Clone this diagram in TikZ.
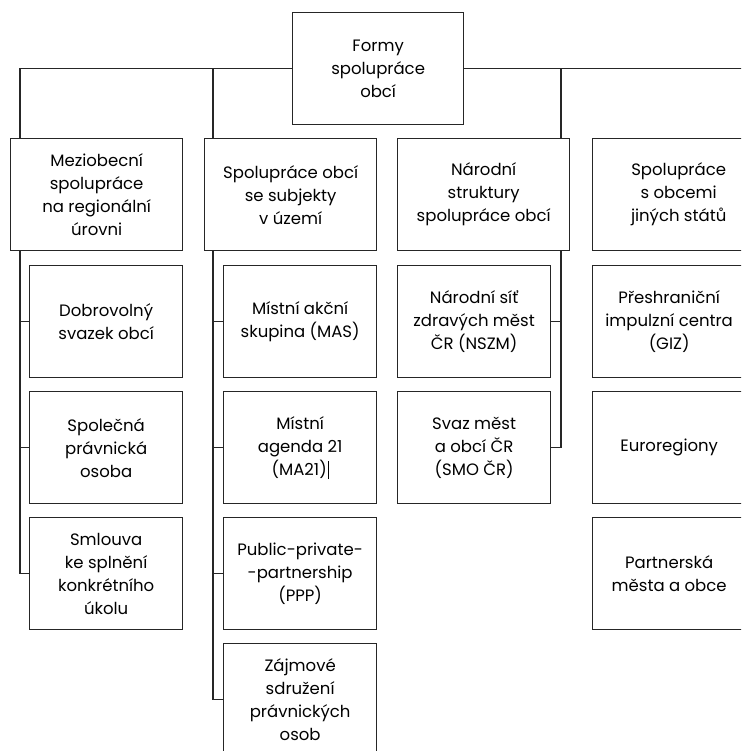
\documentclass[tikz,border=0pt]{standalone}
\usepackage{fontspec}
\setmainfont{Poppins}
\begin{document}
\begin{tikzpicture}[x=1pt,y=-1pt,
  line width=1.3pt, draw=black!85,
  cell/.style={draw, anchor=north west, align=center, inner sep=0pt,
    font=\fontsize{16.5}{23}\selectfont, text=black},
  big/.style={cell, minimum width=172pt, minimum height=112pt},
  small/.style={cell, minimum width=153pt, minimum height=112pt}]
\useasboundingbox (0,0) rectangle (741,751);
\clip (0,0) rectangle (741,751);
% top
\node[cell, minimum width=171pt, minimum height=112pt] (top) at (292,12) {Formy\\spolupráce\\obcí};
% level 1
\node[big] (b1) at (10,138) {Meziobecní\\spolupráce\\na regionální\\úrovni};
\node[big] (b2) at (204,138) {Spolupráce obcí\\se subjekty\\v území};
\node[big] (b3) at (397,138) {Národní\\struktury\\spolupráce obcí};
\node[big] (b4) at (592,138) {Spolupráce\\s obcemi\\jiných států};
% level 2, col 1
\node[small] (c11) at (29,265) {Dobrovolný\\svazek obcí};
\node[small] (c12) at (29,391) {Společná\\právnická\\osoba};
\node[small] (c13) at (29,517) {Smlouva\\ke splnění\\konkrétního\\úkolu};
% col 2
\node[small] (c21) at (223,265) {Místní akční\\skupina (MAS)};
\node[small] (c22) at (223,391) {Místní\\agenda 21\\(MA21)\kern1pt\rule[-4pt]{0.9pt}{18pt}};
\node[small] (c23) at (223,517) {Public-private-\\-partnership\\(PPP)};
\node[small] (c24) at (223,643) {Zájmové\\sdružení\\právnických\\osob};
% col 3
\node[small] (c31) at (397,265) {Národní síť\\zdravých měst\\ČR (NSZM)};
\node[small] (c32) at (397,391) {Svaz měst\\a obcí ČR\\(SMO ČR)};
% col 4
\node[small] (c41) at (592,265) {Přeshraniční\\impulzní centra\\(GIZ)};
\node[small] (c42) at (592,391) {Euroregiony};
\node[small] (c43) at (592,517) {Partnerská\\města a obce};
% connector coordinates
\coordinate (h1) at (20,69);
\coordinate (h2) at (213,69);
\coordinate (h3) at (561,69);
\coordinate (h4) at (756,69);
% top level connectors
\draw (top.west) -| (b1.north -| h1);
\draw (h2 |- top.west) -- (b2.north -| h2);
\draw (top.east) -| (b4.north -| h4);
\draw (h3 |- top.east) -- (b3.north -| h3);
% col 1
\draw (b1.south -| h1) |- (c13.west);
\draw (h1 |- c11.west) -- (c11.west);
\draw (h1 |- c12.west) -- (c12.west);
% col 2
\draw (b2.south -| h2) |- (c24.west);
\draw (h2 |- c21.west) -- (c21.west);
\draw (h2 |- c22.west) -- (c22.west);
\draw (h2 |- c23.west) -- (c23.west);
% col 3
\draw (b3.south -| h3) |- (c32.east);
\draw (h3 |- c31.east) -- (c31.east);
% col 4
\draw (b4.south -| h4) |- (c43.east);
\end{tikzpicture}
\end{document}
